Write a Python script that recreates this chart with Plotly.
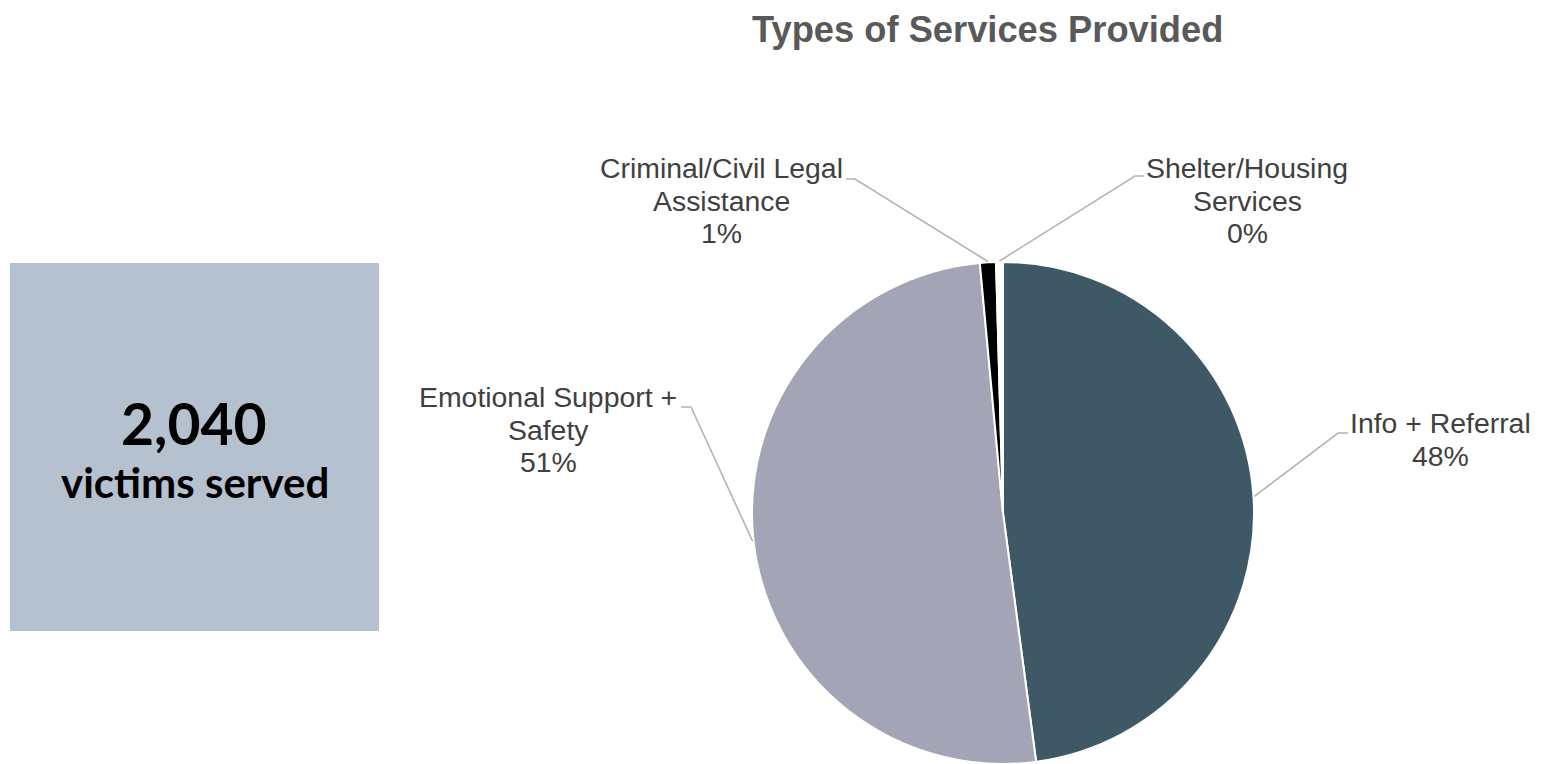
import math
import plotly.graph_objects as go

# ---------------- data ----------------
categories = ["Info + Referral", "Emotional Support + Safety",
              "Criminal/Civil Legal Assistance", "Shelter/Housing Services"]
label_lines = [["Info + Referral"], ["Emotional Support +", "Safety"],
               ["Criminal/Civil Legal", "Assistance"], ["Shelter/Housing", "Services"]]
values = [977, 1033, 21, 9]
victims_served = "2,040"
title_text = "Types of Services Provided"

# ---------------- style / layout ----------------
W, H = 1544, 764
colors = ["#3e5866", "#a3a5b6", "#000000", "#ffffff"]
CX, CY, R = 1003, 513, 251          # pie centre and radius in pixels
# label placement (layout): text centre x, first line centre y, elbow x, elbow y, horizontal end x
label_pos = [
    dict(tx=1440, ty=423, ex=1338, ey=433, hx=1348),
    dict(tx=548, ty=397, ex=691, ey=407, hx=681),
    dict(tx=721, ty=168, ex=855, ey=179, hx=846),
    dict(tx=1247, ty=168, ex=1135, ey=176, hx=1144),
]
LINE_GAP = 32.5
LABEL_FONT = dict(family="Liberation Sans, Arial", size=28.4, color="#404040")


def px(x):
    return x / W


def py(y):
    return 1 - y / H


fig = go.Figure(go.Pie(
    labels=categories, values=values, sort=False, direction="clockwise",
    rotation=0, textinfo="none", hoverinfo="label+percent",
    marker=dict(colors=colors, line=dict(color="#ffffff", width=2)),
    domain=dict(x=[px(CX - R), px(CX + R)], y=[py(CY + R), py(CY - R)]),
    showlegend=False,
))

total = sum(values)
shapes = [dict(type="rect", xref="paper", yref="paper",
               x0=px(10), x1=px(379), y0=py(631), y1=py(263),
               fillcolor="#b5c1ce", line=dict(width=0), layer="below")]
annotations = []
cum = 0
for v, lines, pos in zip(values, label_lines, label_pos):
    pct = v / total
    mid = (cum + v / 2) / total * 2 * math.pi
    cum += v
    sx = CX + (R + 1) * math.sin(mid)
    sy = CY - (R + 1) * math.cos(mid)
    path = (f"M {px(sx)} {py(sy)} L {px(pos['ex'])} {py(pos['ey'])} "
            f"L {px(pos['hx'])} {py(pos['ey'])}")
    shapes.append(dict(type="path", xref="paper", yref="paper", path=path,
                       line=dict(color="#b3b3b3", width=1.6)))
    texts = lines + [f"{round(pct * 100):.0f}%"]
    for i, t in enumerate(texts):
        annotations.append(dict(text=t, x=px(pos["tx"]), y=py(pos["ty"] + i * LINE_GAP),
                                xref="paper", yref="paper", xanchor="center",
                                yanchor="middle", showarrow=False, font=LABEL_FONT))

annotations.append(dict(text=f"<b>{title_text}</b>", x=px(987), y=py(29),
                        xref="paper", yref="paper", xanchor="center", yanchor="middle",
                        showarrow=False,
                        font=dict(family="Liberation Sans, Arial", size=36.3, color="#595959")))
annotations.append(dict(text=f"<b>{victims_served}</b>", x=px(194), y=py(423),
                        xref="paper", yref="paper", xanchor="center", yanchor="middle",
                        showarrow=False, font=dict(family="Lato", size=57, color="#000000")))
annotations.append(dict(text="<b>victims served</b>", x=px(195), y=py(482),
                        xref="paper", yref="paper", xanchor="center", yanchor="middle",
                        showarrow=False, font=dict(family="Lato", size=42, color="#000000")))

fig.update_layout(width=W, height=H, margin=dict(l=0, r=0, t=0, b=0),
                  paper_bgcolor="#ffffff", plot_bgcolor="#ffffff",
                  shapes=shapes, annotations=annotations)
fig.write_html("out.html")
